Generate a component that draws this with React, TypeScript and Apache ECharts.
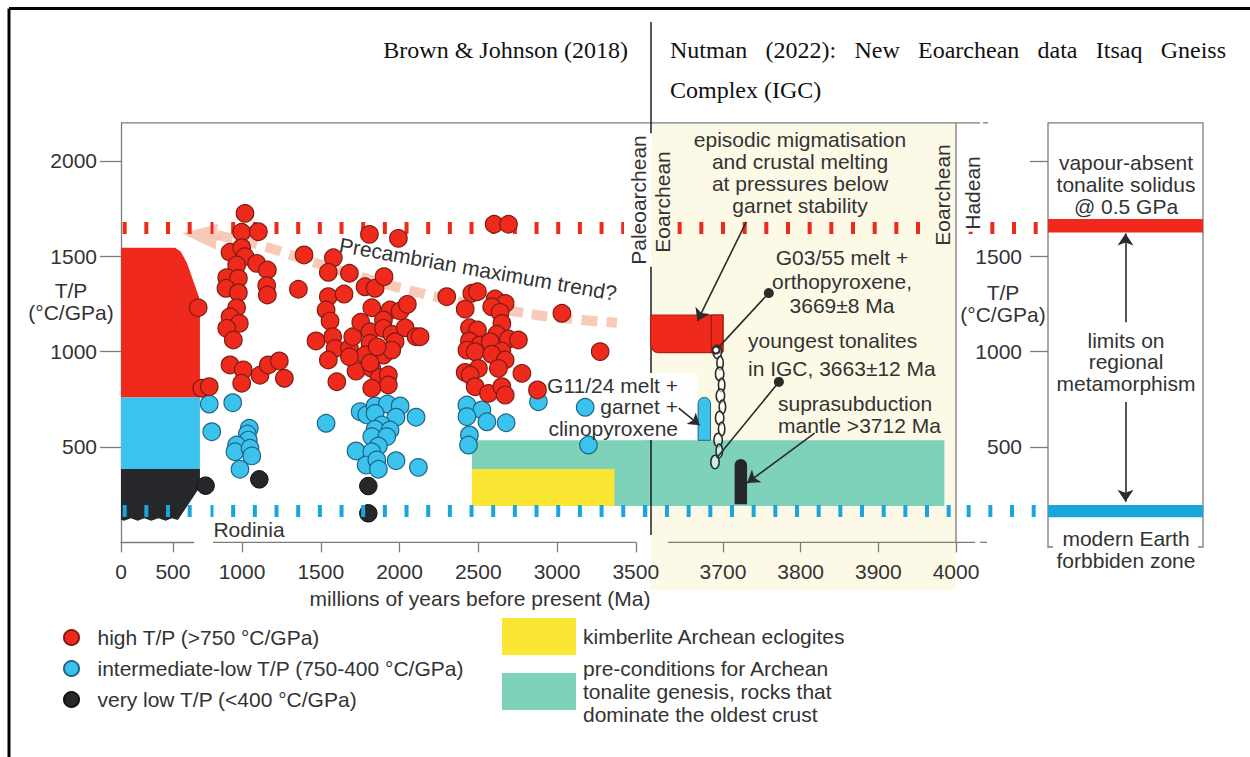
import React, { useEffect, useRef } from "react";
import * as echarts from "echarts";

const SANS = '"Liberation Sans", Arial, Helvetica, sans-serif';
const SERIF = '"Liberation Serif", "Times New Roman", serif';
const F21 = `21px ${SANS}`;

// ---- metamorphic thermal ratios: [age Ma, T/P °C/GPa] ----
const highTP = [
  [1019, 1725], [998, 1626], [1104, 1629], [924, 1521], [998, 1545], [1019, 1498], [966, 1454], [1093, 1463],
  [1161, 1428], [903, 1388], [977, 1384], [898, 1332], [977, 1309], [1157, 1346], [1161, 1297], [966, 1230],
  [924, 1183], [983, 1148], [903, 1122], [945, 1061], [924, 930], [1008, 904], [998, 834], [1114, 876],
  [1167, 930], [1237, 951], [1269, 860], [722, 1230], [744, 808], [792, 816],
  [1394, 1507], [1358, 1327], [1580, 1492], [1548, 1416], [1682, 1411], [1548, 1288], [1648, 1302], [1781, 1340],
  [1845, 1332], [1902, 1393], [1809, 1615], [1993, 1594], [1534, 1218], [1559, 1160], [1470, 1056], [1576, 1078],
  [1591, 1017], [1548, 956], [1602, 842], [1682, 1017], [1703, 1078], [1754, 1154], [1824, 1230], [1940, 1218],
  [2004, 1213], [2050, 1248], [1813, 1104], [1813, 1044], [1898, 1166], [1898, 1122], [1951, 1091], [1972, 1052],
  [2036, 1125], [2105, 1078], [1781, 982], [1724, 898], [1824, 912], [1898, 982], [1951, 1008], [1872, 863],
  [1929, 877], [1929, 825], [1824, 808], [1682, 973], [1858, 1025], [1813, 940], [2131, 1078],
  [2601, 1668], [2692, 1668], [2300, 1288], [2417, 1223], [2459, 1306], [2495, 1314], [2607, 1276], [2671, 1253],
  [2586, 1235], [2639, 1206], [3031, 1201], [2444, 1125], [2495, 1113], [2650, 1148], [2618, 1091], [2692, 1066],
  [2755, 1061], [2444, 1056], [2512, 1035], [2576, 1052], [2428, 1008], [2480, 999], [2650, 1003], [2586, 986],
  [2671, 956], [2628, 912], [2417, 891], [2501, 912], [2449, 877], [2777, 886], [2480, 816], [2565, 781],
  [2650, 816], [2671, 772], [2876, 799], [3274, 1000],
];
const intermediateTP = [
  [792, 725], [941, 732], [808, 580], [1046, 598], [1034, 568], [1040, 536], [966, 510], [955, 475],
  [1051, 493], [1062, 453], [987, 383], [1534, 624], [1750, 685], [1792, 668], [1845, 715], [1923, 725],
  [2004, 715], [1845, 676], [1978, 656], [2105, 656], [1888, 615], [1845, 593], [1940, 589], [1824, 554],
  [1919, 554], [1866, 505], [1724, 479], [1824, 475], [1788, 405], [1856, 432], [1866, 383], [1978, 428],
  [2120, 393], [2428, 720], [2523, 694], [2428, 659], [2555, 632], [2677, 627], [2444, 563], [2438, 510],
  [2882, 737], [3179, 708], [3200, 510],
];
const veryLowTP = [[769, 297], [1110, 330], [1802, 295], [1802, 152]];

// ---- limits ----
const solidusTP = 1650;
const forbiddenTP = 165;
const solidusBand = [1625, 1695];
const forbiddenBand = [132, 195];

// ---- ticks ----
const ageTicksYoung = [0, 500];
const ageTicksMain = [1000, 1500, 2000, 2500, 3000, 3500];
const ageTicksEoarchean = [3700, 3800, 3900, 4000];
const tpTicks = [500, 1000, 1500, 2000];
const tpTicksRight = [500, 1000, 1500];

// ---- young envelope outlines [Ma, T/P] ----
const envelopeHigh = [[0, 1545], [520, 1545], [575, 1525], [635, 1465], [693, 1375], [751, 1286], [760, 1218], [760, 760], [0, 760]];
const envelopeMid = [[0, 760], [760, 760], [760, 385], [0, 385]];
const envelopeLow = [[0, 385], [760, 385], [760, 290], [548, 117], [490, 126], [430, 113], [360, 126], [290, 113], [225, 126], [160, 113], [95, 126], [30, 113], [0, 118]];

// ---- boxes [ageFrom, ageTo, tpFrom, tpTo] ----
const kimberliteBox = [2460, 3365, 190, 385];
const tonaliteBox = [2460, 3985, 190, 535];
const eoarcheanPanel = [3607, 4000, -250, 2200];
const meltBox = [3607, 3700, 995, 1192];
const meltBoxInner = [3685, 3700, 995, 1192];
const garnetBar = [3668, 3684, 535, 760];
const mantleBar = [3715, 3731, 200, 437];
const chainLinks = [[3694, 999], [3695, 940], [3697, 883], [3697, 825], [3698, 768], [3698, 710], [3697, 652], [3697, 594], [3695, 536], [3694, 479], [3691, 421]];

// ---- Precambrian maximum trend ----
const trendPath = [[841, 1611], [1114, 1559], [1368, 1491], [1654, 1418], [2003, 1334], [2384, 1261], [2702, 1214], [3019, 1177], [3381, 1151]];
const trendHead = [[730, 1611]];

const RED = "#EF2A1C";
const RED_EDGE = "#7f1c12";
const BLUE = "#3BC3EE";
const BLUE_EDGE = "#1f6585";
const BLUE_LINE = "#19A6DC";
const BLACK = "#26272B";
const TEAL = "#7ED2BA";
const YELLOW = "#FCE634";
const BEIGE = "#FCF9E7";
const INK = "#333333";
const FRAME = "#7c7c7c";
const TREND = "rgba(242, 150, 115, 0.5)";

const LEG_HIGH = "high T/P (>750 °C/GPa)";
const LEG_MID = "intermediate-low T/P (750-400 °C/GPa)";
const LEG_LOW = "very low T/P (<400 °C/GPa)";
const LEG_KIMB = "kimberlite Archean eclogites";
const LEG_TON = "pre-conditions for Archean\ntonalite genesis, rocks that\ndominate the oldest crust";

const TOP = 122.8;
const HEIGHT = 419.5;
const BASE = TOP + HEIGHT;

const plain = (v: number) => String(v);

const rectItem = (box: number[], style: any, r: any = 0) => (_: any, api: any) => {
  const a = api.coord([box[0], box[3]]);
  const b = api.coord([box[1], box[2]]);
  return { type: "rect", shape: { x: a[0], y: a[1], width: b[0] - a[0], height: b[1] - a[1], r }, style };
};
const polyShape = (pts: number[][], api: any, fill: string) => ({
  type: "polygon",
  shape: { points: pts.map((p) => api.coord(p)) },
  style: { fill },
});

const textEl = (text: string, x: number, y: number, extra: any = {}, elExtra: any = {}) => ({
  type: "text",
  x,
  y,
  z: 8,
  silent: true,
  ...elExtra,
  style: {
    text,
    fill: INK,
    font: F21,
    align: "center",
    textAlign: "center",
    verticalAlign: "middle",
    textVerticalAlign: "middle",
    lineHeight: 22,
    ...extra,
  },
});
const lineEl = (x1: number, y1: number, x2: number, y2: number, stroke = FRAME, lineWidth = 1.3, z = 1) => ({
  type: "line",
  z,
  silent: true,
  shape: { x1, y1, x2, y2 },
  style: { stroke, lineWidth },
});

function justified(words: string[], x0: number, x1: number, y: number, font: string) {
  const ctx = document.createElement("canvas").getContext("2d");
  let widths = words.map((w) => w.length * 10);
  if (ctx) {
    ctx.font = font;
    widths = words.map((w) => ctx.measureText(w).width);
  }
  const total = widths.reduce((a, b) => a + b, 0);
  const gap = (x1 - x0 - total) / (words.length - 1);
  let x = x0;
  return words.map((w, i) => {
    const el = textEl(w, x, y, { font, fill: "#111", align: "left", textAlign: "left" });
    x += widths[i] + gap;
    return el;
  });
}

const refLines = (gi: number, redOffset: number, blueOffset: number) => ({
  type: "line",
  xAxisIndex: gi,
  yAxisIndex: gi,
  data: [],
  z: 3,
  silent: true,
  markLine: {
    silent: true,
    symbol: "none",
    label: { show: false },
    data: [
      { yAxis: solidusTP, lineStyle: { color: RED, width: 12, type: [4, 17.67], dashOffset: redOffset, cap: "butt", opacity: 1 } },
      { yAxis: forbiddenTP, lineStyle: { color: BLUE_LINE, width: 12, type: [4, 17.67], dashOffset: blueOffset, cap: "butt", opacity: 1 } },
    ],
  },
});

const PTR = { color: "#2b2b2b", width: 1.6, type: "solid", opacity: 1 };
const pointer = (from: number[], to: number[], s0: string, s1: string, z0 = 10, z1 = 11) => [
  { coord: from, symbol: s0, symbolSize: z0, lineStyle: PTR },
  { coord: to, symbol: s1, symbolSize: z1, lineStyle: PTR },
];

function buildOption(): any {
  const axisLine = { color: FRAME, width: 1.3 };
  const label = { color: INK, fontSize: 21, fontFamily: SANS, formatter: plain };
  const ageAxis = (gi: number, min: number, max: number, ticks: number[], showLine: boolean) => ({
    type: "value",
    gridIndex: gi,
    min,
    max,
    z: 1,
    axisLine: { show: showLine, lineStyle: axisLine },
    axisTick: { show: true, length: 10, lineStyle: axisLine, customValues: ticks },
    axisLabel: { ...label, margin: 19, customValues: ticks },
    splitLine: { show: false },
  });
  const hiddenX = (gi: number) => ({ type: "value", gridIndex: gi, min: 0, max: 1, show: false, splitLine: { show: false } });
  const hiddenY = (gi: number) => ({ type: "value", gridIndex: gi, min: 0, max: 2200, show: false, splitLine: { show: false } });

  const grids = [
    { left: 121, width: 72.7 },
    { left: 210.5, width: 441 },
    { left: 645.3, width: 310.7 },
    { left: 1048, width: 155 },
    { left: 956, width: 82 },
  ].map((g) => ({ ...g, top: TOP, height: HEIGHT, containLabel: false, outerBoundsMode: "none" }));

  const tealB = [tonaliteBox[0], 3600, tonaliteBox[2], tonaliteBox[3]];
  const tealC = [3600, tonaliteBox[1], tonaliteBox[2], tonaliteBox[3]];

  const series: any[] = [
    {
      type: "custom", name: "Eoarchean panel", xAxisIndex: 2, yAxisIndex: 2, z: 0, silent: true,
      data: [[eoarcheanPanel[0], 0]], renderItem: rectItem(eoarcheanPanel, { fill: BEIGE }),
    },
    {
      type: "custom", name: "young envelope", xAxisIndex: 0, yAxisIndex: 0, z: 2, silent: true, data: [[0, 0]],
      renderItem: (_: any, api: any) => ({
        type: "group",
        children: [polyShape(envelopeHigh, api, RED), polyShape(envelopeMid, api, BLUE), polyShape(envelopeLow, api, BLACK)],
      }),
    },
    {
      type: "custom", name: LEG_TON, xAxisIndex: 1, yAxisIndex: 1, z: 2, silent: true, itemStyle: { color: TEAL },
      data: [[tealB[0], tealB[2]]], renderItem: rectItem(tealB, { fill: TEAL }),
    },
    {
      type: "custom", name: LEG_TON, xAxisIndex: 2, yAxisIndex: 2, z: 2, silent: true, itemStyle: { color: TEAL },
      data: [[tealC[0], tealC[2]]], renderItem: rectItem(tealC, { fill: TEAL }),
    },
    {
      type: "custom", name: LEG_KIMB, xAxisIndex: 1, yAxisIndex: 1, z: 2.5, silent: true, itemStyle: { color: YELLOW },
      data: [[kimberliteBox[0], kimberliteBox[2]]], renderItem: rectItem(kimberliteBox, { fill: YELLOW }),
    },
    {
      type: "custom", name: "IGC samples", xAxisIndex: 2, yAxisIndex: 2, z: 3, silent: true, data: [[meltBox[0], meltBox[2]]],
      renderItem: (p: any, api: any) => ({
        type: "group",
        children: [
          rectItem(meltBox, { fill: RED, stroke: "#b3200f", lineWidth: 1.2 }, [0, 0, 2, 8])(p, api),
          rectItem(meltBoxInner, { fill: RED, stroke: "#a01c0d", lineWidth: 1.2 }, [0, 0, 2, 0])(p, api),
          rectItem(garnetBar, { fill: BLUE, stroke: BLUE_EDGE, lineWidth: 1 }, [7, 7, 0, 0])(p, api),
          rectItem(mantleBar, { fill: BLACK }, [8, 8, 0, 0])(p, api),
        ],
      }),
    },
    {
      type: "custom", name: "tonalite chain", xAxisIndex: 2, yAxisIndex: 2, z: 3.5, silent: true, data: chainLinks,
      renderItem: (p: any, api: any) => {
        const c = api.coord([api.value(0), api.value(1)]);
        const odd = p.dataIndex % 2 === 1;
        return {
          type: "ellipse",
          shape: { cx: c[0] + (odd ? 1 : -1), cy: c[1], rx: odd ? 3.2 : 4.2, ry: 6.8 },
          style: { fill: "rgba(255,255,255,0.6)", stroke: "#2b2b2b", lineWidth: 1.6 },
        };
      },
    },
    refLines(0, 19.67, 19.67),
    refLines(1, 0.82, 0.82),
    refLines(2, 10.67, 2.3),
    refLines(4, 9.37, 11.37),
    {
      type: "line", name: "Precambrian maximum trend", xAxisIndex: 1, yAxisIndex: 1, data: trendPath, smooth: 0.35,
      symbol: "none", clip: false, z: 3, silent: true,
      lineStyle: { color: TREND, width: 10, type: [16, 9], cap: "butt" },
    },
    {
      type: "scatter", name: "trend head", xAxisIndex: 1, yAxisIndex: 1, data: trendHead, symbol: "triangle",
      symbolSize: [26, 35], symbolRotate: 85, clip: false, z: 3, silent: true,
      itemStyle: { color: TREND, opacity: 1 },
    },
    {
      type: "scatter", name: LEG_LOW, xAxisIndex: 1, yAxisIndex: 1, data: veryLowTP, symbol: "circle", symbolSize: 17.5,
      clip: false, z: 4, silent: true, itemStyle: { color: BLACK, borderColor: "#111", borderWidth: 1, opacity: 1 },
    },
    {
      type: "scatter", name: LEG_MID, xAxisIndex: 1, yAxisIndex: 1, data: intermediateTP, symbol: "circle", symbolSize: 17.5,
      clip: false, z: 4.5, silent: true, itemStyle: { color: BLUE, borderColor: BLUE_EDGE, borderWidth: 1.2, opacity: 1 },
    },
    {
      type: "scatter", name: LEG_HIGH, xAxisIndex: 1, yAxisIndex: 1, data: highTP, symbol: "circle", symbolSize: 17.5,
      clip: false, z: 5, silent: true, itemStyle: { color: RED, borderColor: RED_EDGE, borderWidth: 1.2, opacity: 1 },
    },
    {
      type: "line", name: "IGC pointers", xAxisIndex: 2, yAxisIndex: 2, data: [], z: 6, silent: true,
      markLine: {
        silent: true,
        label: { show: false },
        data: [
          pointer([3730, 1680], [3667, 1160], "none", "arrow", 10, 12),
          pointer([3759, 1307], [3691, 1008], "circle", "emptyCircle", 10, 7),
          pointer([3772, 841], [3692, 442], "circle", "none", 10, 8),
          pointer([3818, 573], [3731, 311], "none", "arrow", 10, 12),
          pointer([3643, 704], [3670, 614], "none", "arrow", 10, 11),
        ],
      },
    },
    {
      type: "line", name: "regional limits", xAxisIndex: 3, yAxisIndex: 3, data: [], z: 6, silent: true,
      markArea: {
        silent: true,
        data: [
          [{ yAxis: solidusBand[0], itemStyle: { color: RED, opacity: 1 } }, { yAxis: solidusBand[1] }],
          [{ yAxis: forbiddenBand[0], itemStyle: { color: BLUE_LINE, opacity: 1 } }, { yAxis: forbiddenBand[1] }],
        ],
      },
      markLine: {
        silent: true,
        label: { show: false },
        data: [
          pointer([0.5, 1154], [0.5, 1620], "none", "arrow", 10, 12),
          pointer([0.5, 736], [0.5, 213], "none", "arrow", 10, 12),
        ],
      },
    },
  ];

  const serifHead = `24px ${SERIF}`;
  const rot = Math.PI / 2;
  const graphic: any[] = [
    // page frame
    lineEl(9, 8.5, 1250, 8.5, "#000", 3, 10),
    lineEl(9, 8.5, 9, 757, "#000", 3, 10),
    // header
    textEl("Brown & Johnson (2018)", 628, 50, { font: serifHead, fill: "#111", align: "right", textAlign: "right" }),
    ...justified(["Nutman", "(2022):", "New", "Eoarchean", "data", "Itsaq", "Gneiss"], 670, 1226, 50, serifHead),
    textEl("Complex (IGC)", 670, 90, { font: serifHead, fill: "#111", align: "left", textAlign: "left" }),
    lineEl(651, 22, 651, 535, "#111", 1.4, 2.8),
    // plot frame and broken age axis
    lineEl(121, TOP, 980, TOP),
    lineEl(983, TOP, 988, TOP),
    lineEl(956, TOP, 956, BASE),
    lineEl(213, BASE, 636, BASE),
    lineEl(668, BASE, 975, BASE),
    lineEl(980, BASE, 987, BASE),
    {
      type: "polyline", z: 1, silent: true,
      shape: { points: [[1053, 547], [1048, 547], [1048, TOP], [1203, TOP], [1203, 547], [1198, 547]] },
      style: { stroke: FRAME, lineWidth: 1.3, fill: null },
    },
    // axis titles
    textEl("T/P\n(°C/GPa)", 71, 301),
    textEl("T/P\n(°C/GPa)", 1003, 303.5),
    textEl("millions of years before present (Ma)", 480, 598),
    textEl("Rodinia", 249, 529),
    textEl("Precambrian maximum trend?", 478, 269, {}, { rotation: -0.175 }),
    // eon labels
    textEl("Paleoarchean", 638, 200, { backgroundColor: "#fff", textBackgroundColor: "#fff", padding: [6, 2, 0, 2], textPadding: [6, 2, 0, 2] }, { rotation: rot, z: 7 }),
    textEl("Eoarchean", 662, 202, { backgroundColor: BEIGE, textBackgroundColor: BEIGE, padding: [0, 2, 0, 2], textPadding: [0, 2, 0, 2] }, { rotation: rot, z: 7 }),
    textEl("Eoarchean", 942, 195, { backgroundColor: BEIGE, textBackgroundColor: BEIGE, padding: [2, 2, 2, 2], textPadding: [2, 2, 2, 2] }, { rotation: rot, z: 7 }),
    textEl("Hadean", 972, 193, { backgroundColor: "#fff", textBackgroundColor: "#fff", padding: [2, 2, 2, 2], textPadding: [2, 2, 2, 2] }, { rotation: rot, z: 7 }),
    // IGC annotations
    textEl("episodic migmatisation\nand crustal melting\nat pressures below\ngarnet stability", 800, 172.5, { lineHeight: 21.7 }),
    textEl("G03/55 melt +\northopyroxene,\n3669±8 Ma", 842, 281, { lineHeight: 24 }),
    textEl("youngest tonalites\nin IGC, 3663±12 Ma", 748, 354, { align: "left", textAlign: "left", lineHeight: 28 }),
    textEl("suprasubduction\nmantle >3712 Ma", 778, 414, { align: "left", textAlign: "left", lineHeight: 22 }),
    { type: "rect", z: 2.9, silent: true, shape: { x: 533, y: 373, width: 164, height: 67 }, style: { fill: "#fff" } },
    textEl("G11/24 melt +\ngarnet +\nclinopyroxene", 678, 406.5, { align: "right", textAlign: "right", lineHeight: 21.5 }),
    // regional limits panel
    textEl("vapour-absent\ntonalite solidus\n@ 0.5 GPa", 1126, 184, { lineHeight: 22 }),
    textEl("limits on\nregional\nmetamorphism", 1126, 361.5, { lineHeight: 21.5 }),
    textEl("modern Earth\nforbbiden zone", 1126, 549.5, { lineHeight: 21.5 }),
  ];

  return {
    animation: false,
    backgroundColor: "#fff",
    textStyle: { fontFamily: SANS },
    grid: grids,
    xAxis: [
      ageAxis(0, 0, 700, ageTicksYoung, true),
      ageAxis(1, 800, 3600, ageTicksMain, false),
      ageAxis(2, 3600, 4000, ageTicksEoarchean, false),
      hiddenX(3),
      hiddenX(4),
    ],
    yAxis: [
      {
        type: "value", gridIndex: 0, min: 0, max: 2200, z: 1,
        axisLine: { show: true, lineStyle: axisLine },
        axisTick: { show: true, length: 21, lineStyle: axisLine, customValues: tpTicks },
        axisLabel: { ...label, margin: 24, customValues: tpTicks },
        splitLine: { show: false },
      },
      hiddenY(1),
      hiddenY(2),
      {
        type: "value", gridIndex: 3, min: 0, max: 2200, z: 1,
        axisLine: { show: false },
        axisTick: { show: true, length: 18, lineStyle: axisLine, customValues: tpTicks },
        axisLabel: { ...label, margin: 26, customValues: tpTicksRight },
        splitLine: { show: false },
      },
      hiddenY(4),
    ],
    legend: [
      {
        data: [LEG_HIGH, LEG_MID, LEG_LOW], orient: "vertical", left: 58, top: 621, icon: "circle",
        itemWidth: 42, itemHeight: 15, itemGap: 8, selectedMode: false,
        textStyle: { color: INK, fontSize: 21, fontFamily: SANS, lineHeight: 23 },
      },
      {
        data: [LEG_KIMB, LEG_TON], orient: "vertical", left: 497, top: 613, icon: "rect",
        itemWidth: 74, itemHeight: 37, itemGap: 2, selectedMode: false,
        textStyle: { color: INK, fontSize: 21, fontFamily: SANS, lineHeight: 23, padding: [0, 0, 0, 2] },
      },
    ],
    series,
    graphic,
  };
}

export default function App() {
  const ref = useRef<HTMLDivElement>(null);
  useEffect(() => {
    const chart = echarts.init(ref.current!, undefined, { renderer: "svg" });
    chart.setOption(buildOption());
    return () => chart.dispose();
  }, []);
  return <div ref={ref} style={{ position: "absolute", left: 0, top: 0, width: 1250, height: 757 }} />;
}
